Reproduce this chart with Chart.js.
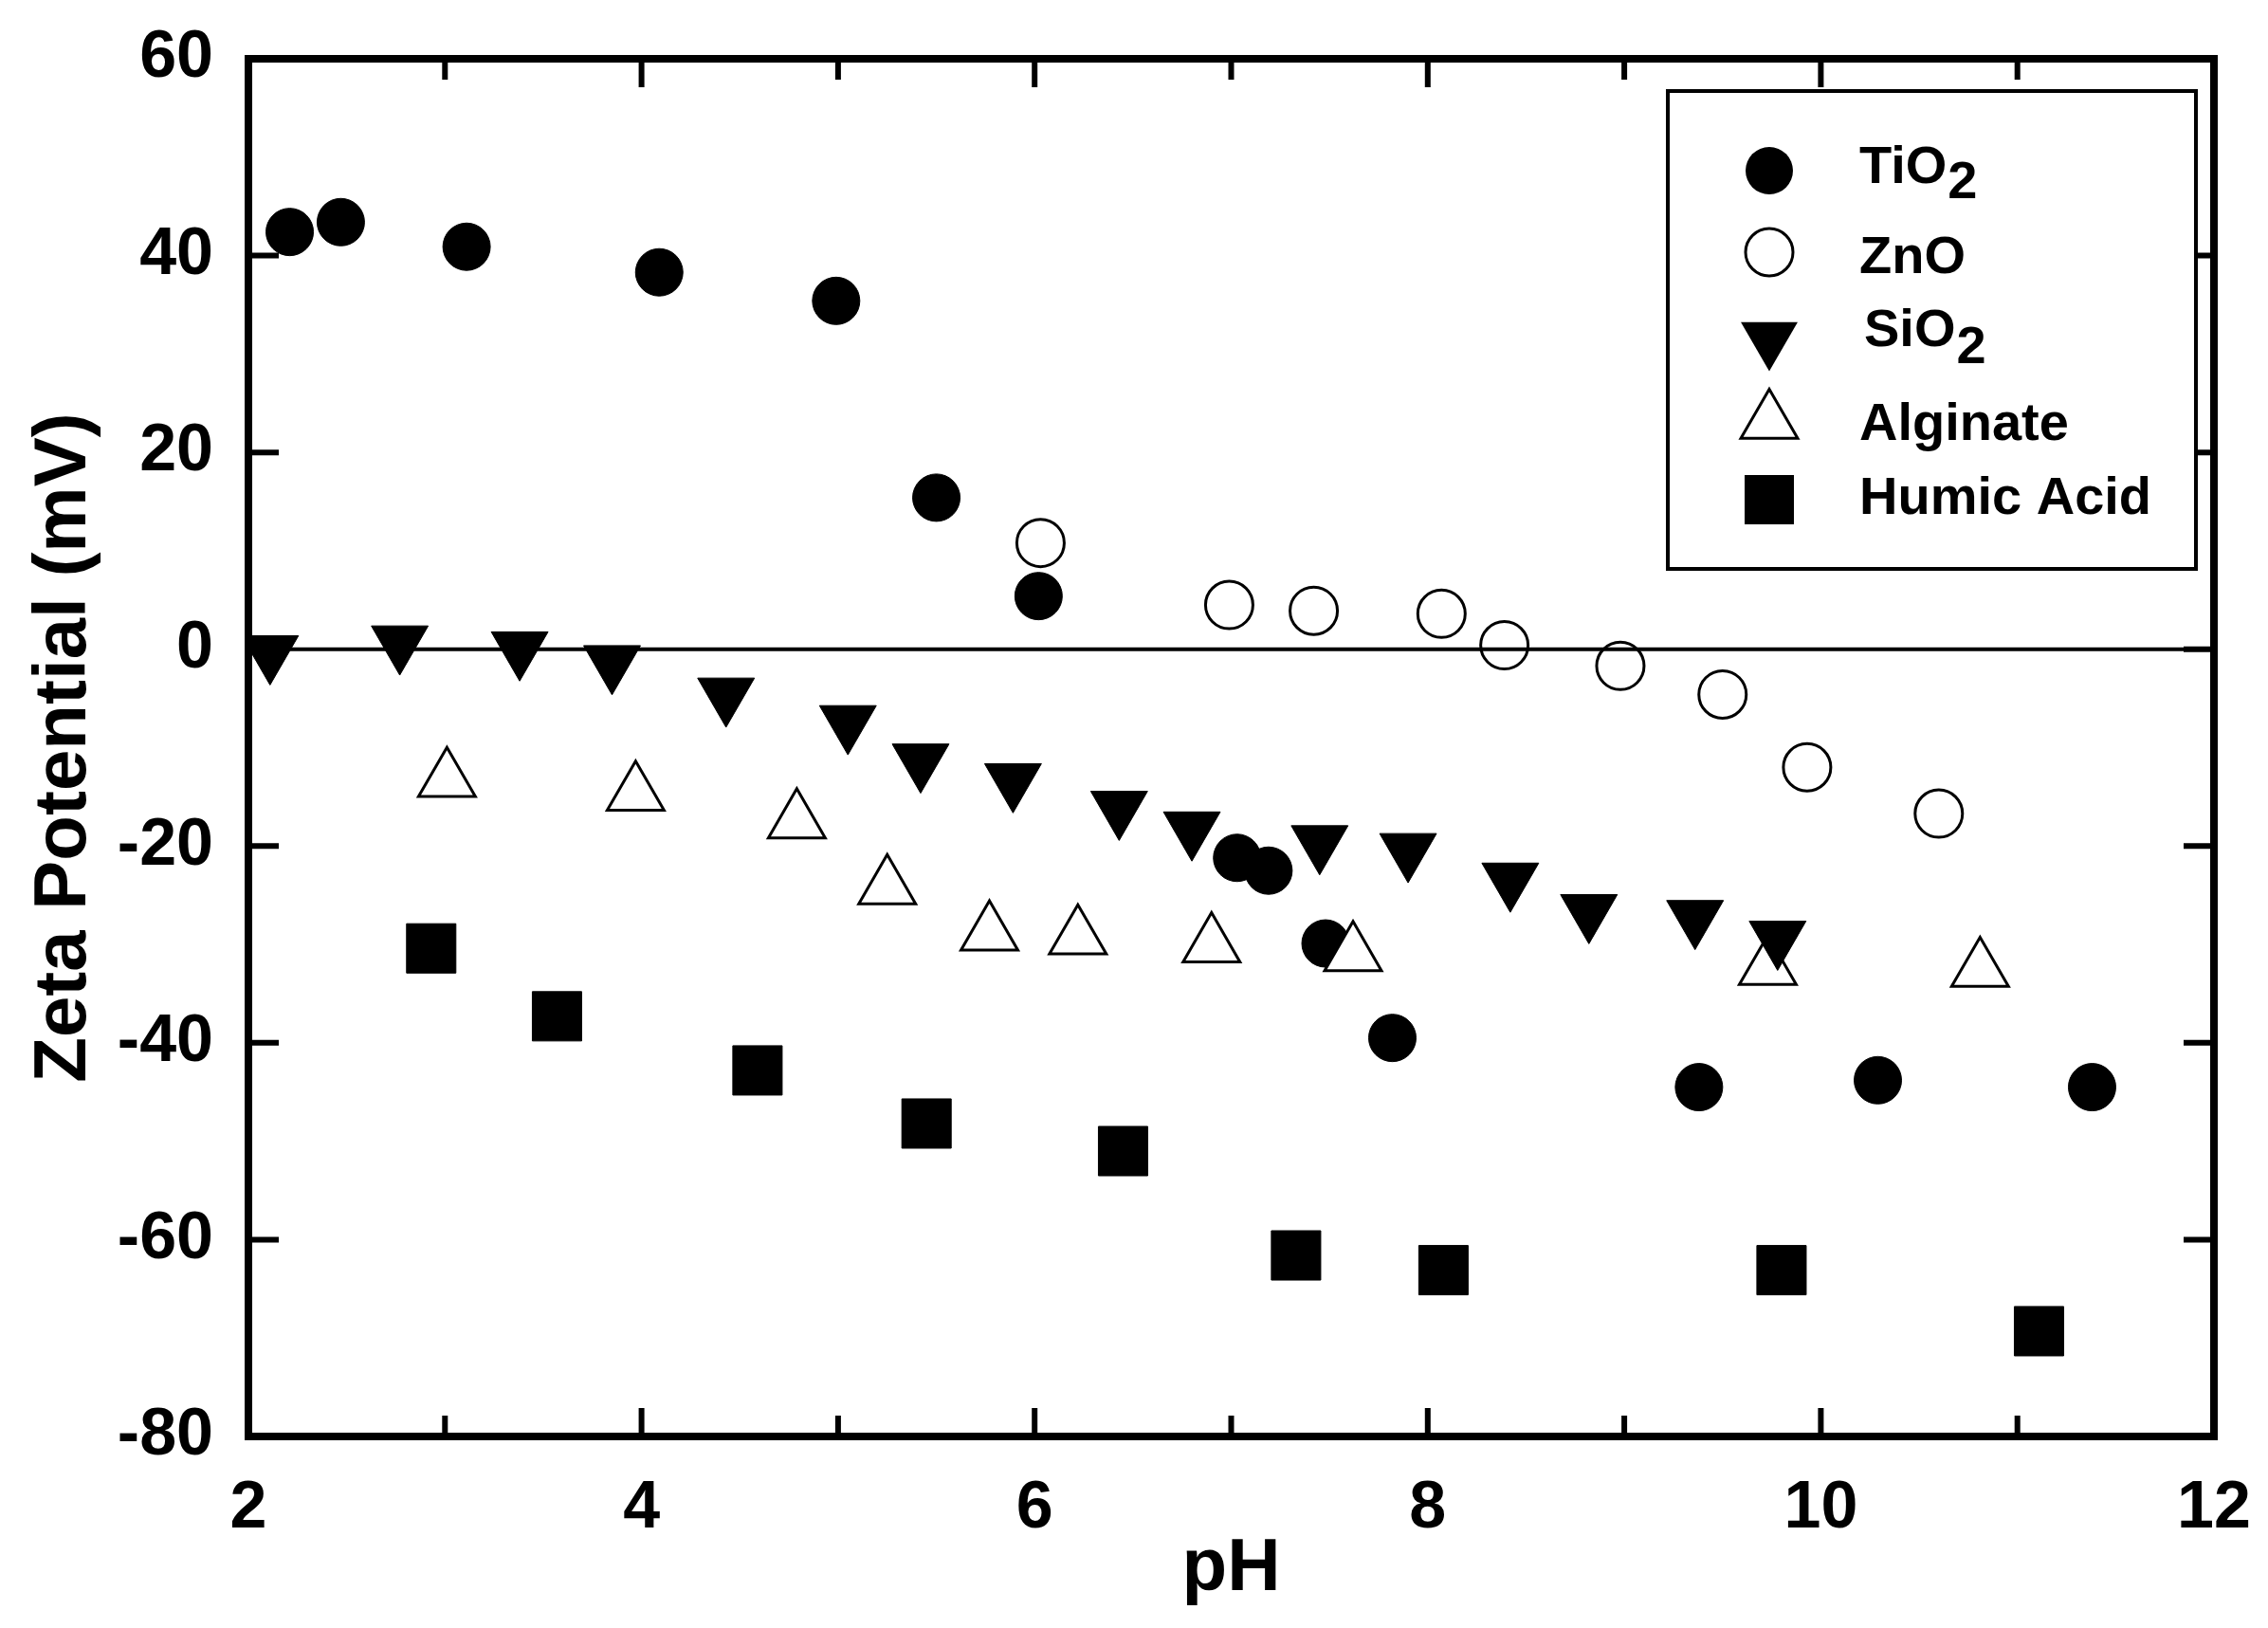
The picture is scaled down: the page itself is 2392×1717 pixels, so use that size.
<!DOCTYPE html>
<html>
<head>
<meta charset="utf-8">
<title>Zeta Potential vs pH</title>
<script src="https://cdn.jsdelivr.net/npm/chart.js@4.4.1/dist/chart.umd.min.js"></script>
<style>
  body { margin: 0; background: #fff; }
  canvas { display: block; }
</style>
</head>
<body>
<canvas id="zeta" width="2392" height="1717"></canvas>
<script>
var ctx = document.getElementById('zeta').getContext('2d');

/* valores */
const tio2X = [2.21, 2.47, 3.11, 4.09, 4.99, 5.5, 6.02, 7.03, 7.19, 7.48, 7.82, 9.38, 10.29, 11.38];
const tio2Y = [42.4, 43.4, 40.9, 38.3, 35.4, 15.4, 5.4, -21.2, -22.5, -29.9, -39.5, -44.5, -43.8, -44.5];

const znoX = [6.03, 6.99, 7.42, 8.07, 8.39, 8.98, 9.5, 9.93, 10.6];
const znoY = [10.8, 4.5, 3.9, 3.6, 0.4, -1.7, -4.6, -12.0, -16.7];

const sio2X = [2.11, 2.77, 3.38, 3.85, 4.43, 5.05, 5.42, 5.89, 6.43, 6.8, 7.45, 7.9, 8.42, 8.82, 9.36, 9.78];
const sio2Y = [-0.3, 0.7, 0.1, -1.3, -4.6, -7.4, -11.3, -13.3, -16.1, -18.2, -19.6, -20.4, -23.4, -26.6, -27.2, -29.3];

const alginateX = [3.01, 3.97, 4.79, 5.25, 5.77, 6.22, 6.9, 7.62, 9.73, 10.81];
const alginateY = [-13.3, -14.7, -17.5, -24.2, -28.9, -29.3, -30.1, -31.0, -32.4, -32.6];

const humicX = [2.93, 3.57, 4.59, 5.45, 6.45, 7.33, 8.08, 9.8, 11.11];
const humicY = [-30.4, -37.3, -42.8, -48.2, -51.0, -61.6, -63.1, -63.1, -69.3];

const xTicks = [2, 4, 6, 8, 10, 12];
const yTicks = [-80, -60, -40, -20, 0, 20, 40, 60];

function pts(xs, ys) {
    return xs.map(function (x, i) { return { x: x, y: ys[i] }; });
}

const FONT = "'Liberation Sans', Arial, sans-serif";
Chart.defaults.font.family = FONT;
Chart.defaults.color = '#000';

// marco, ticks hacia dentro, linea de cero y leyenda
const framePlugin = {
    id: 'frame',
    beforeDatasetsDraw: function (chart) {
        const c = chart.ctx, a = chart.chartArea, y0 = chart.scales.y.getPixelForValue(0);
        c.save();
        c.strokeStyle = '#000';
        c.lineWidth = 4;
        c.beginPath();
        c.moveTo(a.left, y0);
        c.lineTo(a.right, y0);
        c.stroke();
        c.restore();
    },
    afterDraw: function (chart) {
        const c = chart.ctx, a = chart.chartArea;
        const sx = chart.scales.x, sy = chart.scales.y;
        c.save();
        c.strokeStyle = '#000';
        c.lineWidth = 6;
        c.beginPath();
        for (let v = 3; v < 12; v++) {
            const px = sx.getPixelForValue(v);
            const len = (v % 2 === 0) ? 30 : 22;
            c.moveTo(px, a.bottom); c.lineTo(px, a.bottom - len);
            c.moveTo(px, a.top); c.lineTo(px, a.top + len);
        }
        yTicks.forEach(function (v) {
            const py = sy.getPixelForValue(v);
            c.moveTo(a.left, py); c.lineTo(a.left + 32, py);
            c.moveTo(a.right, py); c.lineTo(a.right - 32, py);
        });
        c.stroke();
        c.lineWidth = 8;
        c.strokeRect(a.left, a.top, a.right - a.left, a.bottom - a.top);

        // leyenda
        const bx = 1759, by = 96, bw = 557, bh = 504;
        c.fillStyle = '#fff';
        c.fillRect(bx, by, bw, bh);
        c.lineWidth = 4;
        c.strokeRect(bx, by, bw, bh);
        const mx = 1866;
        c.fillStyle = '#000';
        c.lineWidth = 3;
        // TiO2
        c.beginPath(); c.arc(mx, 180, 25, 0, Math.PI * 2); c.fill();
        // ZnO
        c.beginPath(); c.arc(mx, 266, 25, 0, Math.PI * 2); c.stroke();
        // SiO2 (triangulo invertido)
        const r = 34.6;
        c.beginPath();
        c.moveTo(mx, 357 + r);
        c.lineTo(mx - r * Math.sin(Math.PI / 3), 357 - r / 2);
        c.lineTo(mx + r * Math.sin(Math.PI / 3), 357 - r / 2);
        c.closePath(); c.fill();
        // Alginate
        c.beginPath();
        c.moveTo(mx, 445 - r);
        c.lineTo(mx - r * Math.sin(Math.PI / 3), 445 + r / 2);
        c.lineTo(mx + r * Math.sin(Math.PI / 3), 445 + r / 2);
        c.closePath(); c.stroke();
        // Humic acid
        c.fillRect(mx - 26, 527 - 26, 52, 52);

        c.textAlign = 'left';
        c.textBaseline = 'alphabetic';
        function formula(base, sub, x, y, dy) {
            c.font = 'bold 56px ' + FONT;
            c.fillText(base, x, y);
            const w = c.measureText(base).width;
            c.font = 'bold 56px ' + FONT;
            c.fillText(sub, x + w + 1, y + dy);
        }
        formula('TiO', '2', 1961, 193, 16);
        c.font = 'bold 56px ' + FONT;
        c.fillText('ZnO', 1961, 288);
        formula('SiO', '2', 1966, 365, 18);
        c.font = 'bold 56px ' + FONT;
        c.fillText('Alginate', 1961, 464);
        c.fillText('Humic Acid', 1961, 542);
        c.restore();
    }
};

var myChart = new Chart(ctx, {
    type: 'scatter',
    data: {
        datasets: [{
            label: 'TiO2',
            data: pts(tio2X, tio2Y),
            pointStyle: 'circle',
            pointRadius: 25,
            backgroundColor: '#000',
            borderColor: '#000',
            borderWidth: 1,
            order: 4
        }, {
            label: 'ZnO',
            data: pts(znoX, znoY),
            pointStyle: 'circle',
            pointRadius: 25,
            backgroundColor: 'rgba(0,0,0,0)',
            borderColor: '#000',
            borderWidth: 3,
            order: 5
        }, {
            label: 'SiO2',
            data: pts(sio2X, sio2Y),
            pointStyle: 'triangle',
            rotation: 180,
            pointRadius: 34.6,
            backgroundColor: '#000',
            borderColor: '#000',
            borderWidth: 1,
            order: 1
        }, {
            label: 'Alginate',
            data: pts(alginateX, alginateY),
            pointStyle: 'triangle',
            pointRadius: 34.6,
            backgroundColor: '#fff',
            borderColor: '#000',
            borderWidth: 3,
            order: 2
        }, {
            label: 'Humic Acid',
            data: pts(humicX, humicY),
            pointStyle: 'rect',
            pointRadius: 36.8,
            backgroundColor: '#000',
            borderColor: '#000',
            borderWidth: 1,
            order: 3
        }]
    },
    options: {
        responsive: false,
        animation: false,
        devicePixelRatio: 1,
        layout: { padding: { left: 0, top: 62, right: 57, bottom: 0 } },
        plugins: {
            legend: { display: false },
            tooltip: { enabled: false }
        },
        scales: {
            x: {
                type: 'linear',
                min: 2,
                max: 12,
                afterFit: function (s) { s.height = 202; s.paddingLeft = 0; s.paddingRight = 0; },
                afterBuildTicks: function (s) { s.ticks = xTicks.map(function (v) { return { value: v }; }); },
                grid: { display: false, drawTicks: false },
                border: { display: false },
                ticks: { padding: 35, font: { size: 70, weight: 'bold' }, color: '#000' },
                title: { display: true, text: 'pH', font: { size: 78, weight: 'bold' }, padding: { top: 0, bottom: 15 }, color: '#000' }
            },
            y: {
                type: 'linear',
                min: -80,
                max: 60,
                afterFit: function (s) { s.width = 262; s.paddingTop = 0; s.paddingBottom = 0; },
                afterBuildTicks: function (s) { s.ticks = yTicks.map(function (v) { return { value: v }; }); },
                grid: { display: false, drawTicks: false },
                border: { display: false },
                ticks: { padding: 37, font: { size: 70, weight: 'bold' }, color: '#000' },
                title: { display: true, text: 'Zeta Potential (mV)', font: { size: 78, weight: 'bold' }, padding: { top: 22, bottom: 0 }, color: '#000' }
            }
        }
    },
    plugins: [framePlugin]
});
</script>
</body>
</html>
